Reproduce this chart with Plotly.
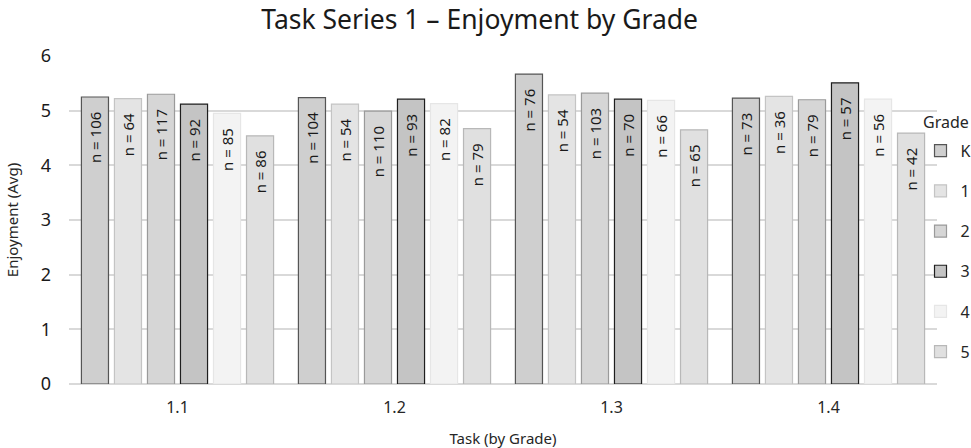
import plotly.graph_objects as go

tasks = ["1.1", "1.2", "1.3", "1.4"]
grades = ["K", "1", "2", "3", "4", "5"]

# average enjoyment per grade, per task
enjoy_K = [5.25, 5.24, 5.67, 5.23]
enjoy_1 = [5.22, 5.12, 5.29, 5.26]
enjoy_2 = [5.30, 4.99, 5.32, 5.20]
enjoy_3 = [5.12, 5.21, 5.21, 5.51]
enjoy_4 = [4.95, 5.13, 5.19, 5.21]
enjoy_5 = [4.54, 4.67, 4.65, 4.59]

# sample sizes per grade, per task
n_K = [106, 104, 76, 73]
n_1 = [64, 54, 54, 36]
n_2 = [117, 110, 103, 79]
n_3 = [92, 93, 70, 57]
n_4 = [85, 82, 66, 56]
n_5 = [86, 79, 65, 42]

values = [enjoy_K, enjoy_1, enjoy_2, enjoy_3, enjoy_4, enjoy_5]
counts = [n_K, n_1, n_2, n_3, n_4, n_5]

fills = ["#cfcfcf", "#e4e4e4", "#d6d6d6", "#c4c4c4", "#f3f3f3", "#e0e0e0"]
borders = ["#555555", "#c4c4c4", "#9a9a9a", "#1e1e1e", "#e6e6e6", "#b8b8b8"]

FONT = "Noto Sans"
PAD = "\u00a0" * 3

fig = go.Figure()
for g, v, n, fc, bc in zip(grades, values, counts, fills, borders):
    fig.add_trace(go.Bar(
        name=g, x=tasks, y=v,
        text=[f"n = {k}{PAD}" for k in n],
        textposition="inside", insidetextanchor="end", textangle=-90,
        textfont=dict(family=FONT, size=15, color="#1a1a1a"),
        constraintext="none",
        marker=dict(color=fc, line=dict(color=bc, width=1.2)),
        legendgroup=g,
        cliponaxis=False,
    ))

fig.update_layout(
    width=971, height=448,
    margin=dict(l=69, r=34, t=56, b=64, autoexpand=False),
    paper_bgcolor="white", plot_bgcolor="white",
    barmode="group", bargap=0.087, bargroupgap=0.18,
    title=dict(text="Task Series 1 – Enjoyment by Grade", x=0.494, xanchor="center",
               y=0.956, yanchor="middle",
               font=dict(family=FONT, size=26.5, color="#1a1a1a")),
    font=dict(family=FONT, color="#262626"),
    legend=dict(
        x=0.981, xanchor="left", y=0.763, yanchor="top",
        bgcolor="rgba(0,0,0,0)", font=dict(size=16, family=FONT, color="#262626"),
        tracegroupgap=16.4, itemwidth=30,
    ),
    annotations=[dict(text="Grade", xref="paper", yref="paper", x=0.982, y=0.80,
                      xanchor="left", yanchor="middle", showarrow=False,
                      font=dict(size=16, family=FONT, color="#262626"))],
    uniformtext=dict(minsize=8, mode="show"),
)
fig.update_yaxes(
    range=[0, 6], dtick=1, showgrid=True, gridcolor="#d9d9d9", gridwidth=2,
    zeroline=True, zerolinecolor="#d9d9d9", zerolinewidth=2,
    ticks="", tickfont=dict(size=18, family=FONT, color="#1a1a1a"),
    ticklabelstandoff=17, automargin=False,
    title=dict(text="Enjoyment (Avg)", font=dict(size=15, family=FONT, color="#262626"), standoff=18),
)
fig.update_xaxes(
    showgrid=False, ticks="", tickfont=dict(size=16, family=FONT, color="#262626"),
    ticklabelstandoff=12, automargin=False,
    title=dict(text="Task (by Grade)", font=dict(size=15, family=FONT, color="#262626"), standoff=16),
)

fig.write_html("out.html", config={"displayModeBar": False},
               post_script="document.body.style.margin='0px';document.body.style.padding='0px';")
